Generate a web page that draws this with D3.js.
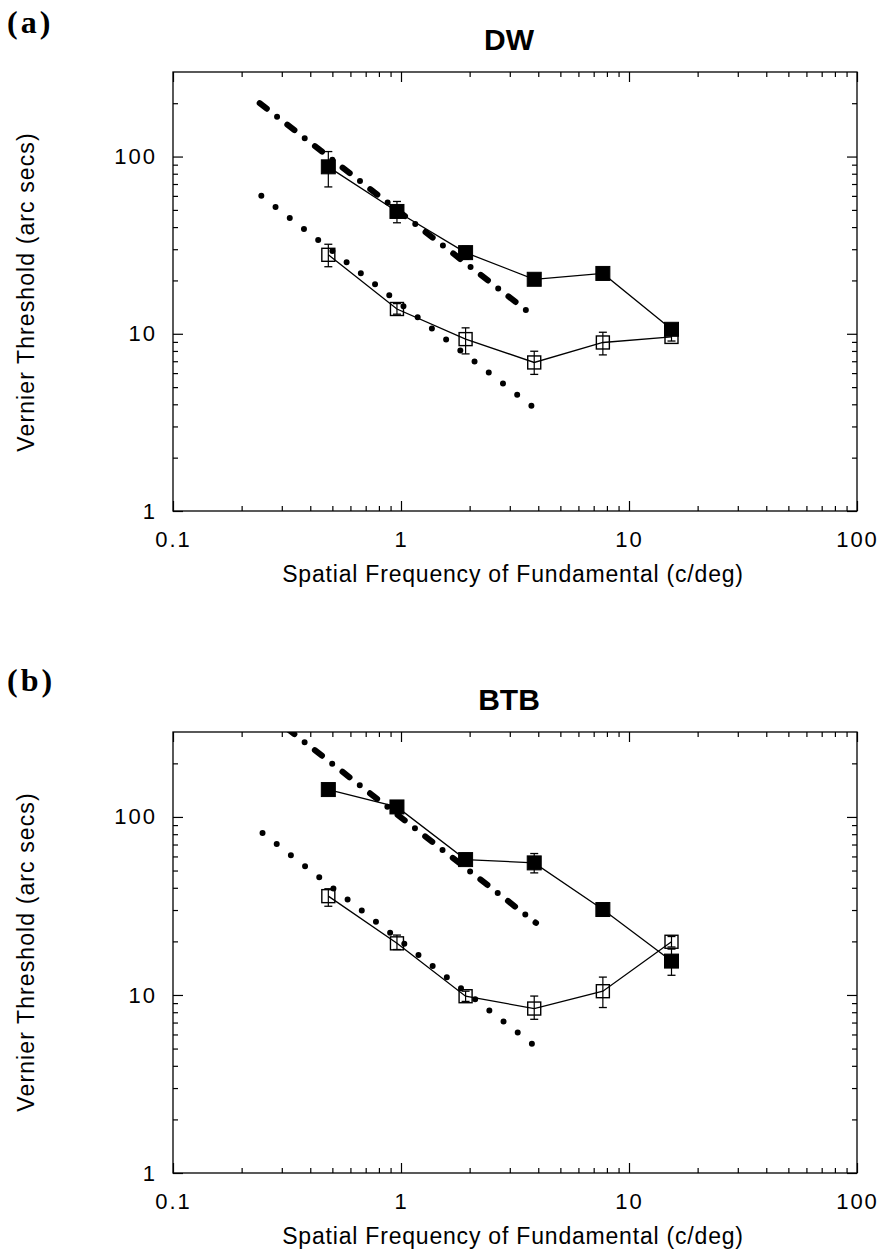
<!DOCTYPE html>
<html>
<head>
<meta charset="utf-8">
<script src="https://cdn.jsdelivr.net/npm/d3@7"></script>
<style>
  body { margin: 0; background: #fff; }
  svg { display: block; }
  text { font-family: "Liberation Sans", Arial, Helvetica, sans-serif; fill: #000; }
</style>
</head>
<body>
<svg id="chart" width="883" height="1249"></svg>
<script>
// ---------- DATA ----------
const frequencies = [0.48, 0.96, 1.92, 3.84, 7.68, 15.36];   // c/deg

// Panel (a) DW
const dwFilled    = [87.5, 49, 28.7, 20.3, 21.9, 10.6];
const dwFilledLo  = [67.4, 42.3, 26.3, 19.2, 20.8, 10.0];
const dwFilledHi  = [106.7, 55.8, 31.2, 21.5, 23.1, 11.3];
const dwOpen      = [27.9, 13.8, 9.33, 6.89, 8.93, 9.6];
const dwOpenLo    = [23.9, 12.9, 7.7, 5.9, 7.6, 9.1];
const dwOpenHi    = [32.0, 14.8, 10.8, 7.97, 10.2, 10.1];
const dwDashX     = [0.24, 3.7];
const dwDashY     = [200, 13.0];
const dwDotX      = [0.244, 3.91];
const dwDotY      = [60, 3.75];

// Panel (b) BTB
const btbFilled   = [142.5, 113.8, 57.6, 55.2, 30.2, 15.5];
const btbFilledLo = [135, 106, 53.5, 48.5, 28.6, 12.9];
const btbFilledHi = [150, 121, 62.5, 62.3, 31.8, 18.1];
const btbOpen     = [35.9, 19.5, 9.84, 8.39, 10.5, 19.9];
const btbOpenLo   = [31.5, 18.0, 9.2, 7.3, 8.5, 18.6];
const btbOpenHi   = [39.5, 21.7, 10.5, 9.86, 12.6, 21.3];
const btbDashX    = [0.24, 3.91];
const btbDashY    = [414, 25.4];
const btbDotX     = [0.247, 3.84];
const btbDotY     = [81.3, 5.2];

const xDomain = [0.1, 100];
const yDomain = [1, 300];
const xTickLabels = ["0.1", "1", "10", "100"];
const yTickLabels = ["1", "10", "100"];

const xTitle = "Spatial Frequency of Fundamental (c/deg)";
const yTitle = "Vernier Threshold (arc secs)";

// ---------- DRAW ----------
const svg = d3.select("#chart");

function panel(cfg) {
  const W = 684, H = cfg.h;
  const g = svg.append("g").attr("transform", `translate(${cfg.left},${cfg.top})`);
  const x = d3.scaleLog().domain(xDomain).range([0, W]);
  const y = d3.scaleLog().domain(yDomain).range([H, 0]);

  const isMajor = v => Math.abs(Math.log10(v) - Math.round(Math.log10(v))) < 1e-9;
  const xt = x.ticks();
  const yt = y.ticks().filter(v => v < yDomain[1]);
  const xMinor = xt.filter(v => !isMajor(v)), xMajor = xt.filter(isMajor);
  const yMinor = yt.filter(v => !isMajor(v)), yMajor = yt.filter(isMajor);

  const clipId = "clip" + cfg.id;
  svg.append("defs").append("clipPath").attr("id", clipId)
    .append("rect").attr("width", W).attr("height", H);

  function styleAxis(sel) {
    sel.select(".domain").remove();
    sel.selectAll(".tick line").attr("stroke", "#000").attr("stroke-width", 1.2);
    sel.attr("font-family", null).attr("font-size", null);
  }

  // bottom
  g.append("g").attr("transform", `translate(0,${H})`)
    .call(d3.axisBottom(x).tickValues(xMinor).tickSize(-5).tickFormat("")).call(styleAxis);
  const bx = g.append("g").attr("transform", `translate(0,${H})`)
    .call(d3.axisBottom(x).tickValues(xMajor).tickSize(-10).tickPadding(20)
      .tickFormat((d, i) => xTickLabels[i])).call(styleAxis);
  bx.selectAll("text").style("font-size", "22px").style("letter-spacing", "2px");
  // top
  g.append("g").call(d3.axisTop(x).tickValues(xMinor).tickSize(-5).tickFormat("")).call(styleAxis);
  g.append("g").call(d3.axisTop(x).tickValues(xMajor).tickSize(-10).tickFormat("")).call(styleAxis);
  // left
  g.append("g").call(d3.axisLeft(y).tickValues(yMinor).tickSize(-5).tickFormat("")).call(styleAxis);
  const ly = g.append("g").call(d3.axisLeft(y).tickValues(yMajor).tickSize(-10).tickPadding(16)
      .tickFormat((d, i) => yTickLabels[i])).call(styleAxis);
  ly.selectAll("text").style("font-size", "22px").style("letter-spacing", "2px");
  // right
  g.append("g").attr("transform", `translate(${W},0)`)
    .call(d3.axisRight(y).tickValues(yMinor).tickSize(-5).tickFormat("")).call(styleAxis);
  g.append("g").attr("transform", `translate(${W},0)`)
    .call(d3.axisRight(y).tickValues(yMajor).tickSize(-10).tickFormat("")).call(styleAxis);

  // frame
  g.append("rect").attr("width", W).attr("height", H)
    .attr("fill", "none").attr("stroke", "#000").attr("stroke-width", 1.3);

  const plot = g.append("g").attr("clip-path", `url(#${clipId})`);
  const line = d3.line().x(d => x(d[0])).y(d => y(d[1]));

  // regression lines
  plot.append("path").datum(d3.zip(cfg.dashX, cfg.dashY))
    .attr("d", line).attr("fill", "none").attr("stroke", "#000")
    .attr("stroke-width", 6).attr("stroke-linecap", "round")
    .attr("stroke-dasharray", "9,13,0,13");
  plot.append("path").datum(d3.zip(cfg.dotX, cfg.dotY))
    .attr("d", line).attr("fill", "none").attr("stroke", "#000")
    .attr("stroke-width", 6).attr("stroke-linecap", "round")
    .attr("stroke-dasharray", "0,18");

  function series(vals, lo, hi, filled) {
    const pts = frequencies.map((f, i) => ({ f, v: vals[i], lo: lo[i], hi: hi[i] }));
    const sg = plot.append("g");
    sg.append("path").datum(pts.map(p => [p.f, p.v]))
      .attr("d", line).attr("fill", "none").attr("stroke", "#000").attr("stroke-width", 1.3);
    const eb = sg.selectAll(".eb").data(pts).join("g");
    eb.append("line").attr("x1", p => x(p.f)).attr("x2", p => x(p.f))
      .attr("y1", p => y(p.lo)).attr("y2", p => y(p.hi))
      .attr("stroke", "#000").attr("stroke-width", 1.2);
    [ "lo", "hi" ].forEach(k => {
      eb.append("line").attr("x1", p => x(p.f) - 4).attr("x2", p => x(p.f) + 4)
        .attr("y1", p => y(p[k])).attr("y2", p => y(p[k]))
        .attr("stroke", "#000").attr("stroke-width", 1.3);
    });
    const s = filled ? 14 : 13;
    sg.selectAll(".sq").data(pts).join("rect")
      .attr("x", p => x(p.f) - s / 2).attr("y", p => y(p.v) - s / 2)
      .attr("width", s).attr("height", s)
      .attr("fill", filled ? "#000" : "none")
      .attr("stroke", "#000").attr("stroke-width", filled ? 1 : 1.4);
  }
  series(cfg.open, cfg.openLo, cfg.openHi, false);
  series(cfg.filled, cfg.filledLo, cfg.filledHi, true);

  // titles
  g.append("text").attr("x", W / 2 - 6).attr("y", -22).attr("text-anchor", "middle")
    .style("font-size", "30px").style("font-weight", "bold").text(cfg.title);
  g.append("text").attr("x", W / 2 - 2).attr("y", H + 71).attr("text-anchor", "middle")
    .style("font-size", "23px").style("letter-spacing", "0.8px").text(xTitle);
  g.append("text")
    .attr("transform", `translate(${34 - cfg.left},${cfg.yTitleMid - cfg.top}) rotate(-90)`)
    .attr("text-anchor", "middle")
    .style("font-size", "23px").style("letter-spacing", "1.1px").text(yTitle);
  svg.append("text").attr("x", 7).attr("y", cfg.labelY)
    .style("font-family", "'Liberation Serif', 'Times New Roman', serif")
    .style("font-size", "32px").style("font-weight", "bold").style("letter-spacing", "3px")
    .text(cfg.label);
}

panel({ id: "a", left: 173, top: 72, h: 439, title: "DW", label: "(a)", labelY: 33, yTitleMid: 292,
  filled: dwFilled, filledLo: dwFilledLo, filledHi: dwFilledHi,
  open: dwOpen, openLo: dwOpenLo, openHi: dwOpenHi,
  dashX: dwDashX, dashY: dwDashY, dotX: dwDotX, dotY: dwDotY });

panel({ id: "b", left: 173, top: 732, h: 441, title: "BTB", label: "(b)", labelY: 691, yTitleMid: 952,
  filled: btbFilled, filledLo: btbFilledLo, filledHi: btbFilledHi,
  open: btbOpen, openLo: btbOpenLo, openHi: btbOpenHi,
  dashX: btbDashX, dashY: btbDashY, dotX: btbDotX, dotY: btbDotY });
</script>
</body>
</html>
